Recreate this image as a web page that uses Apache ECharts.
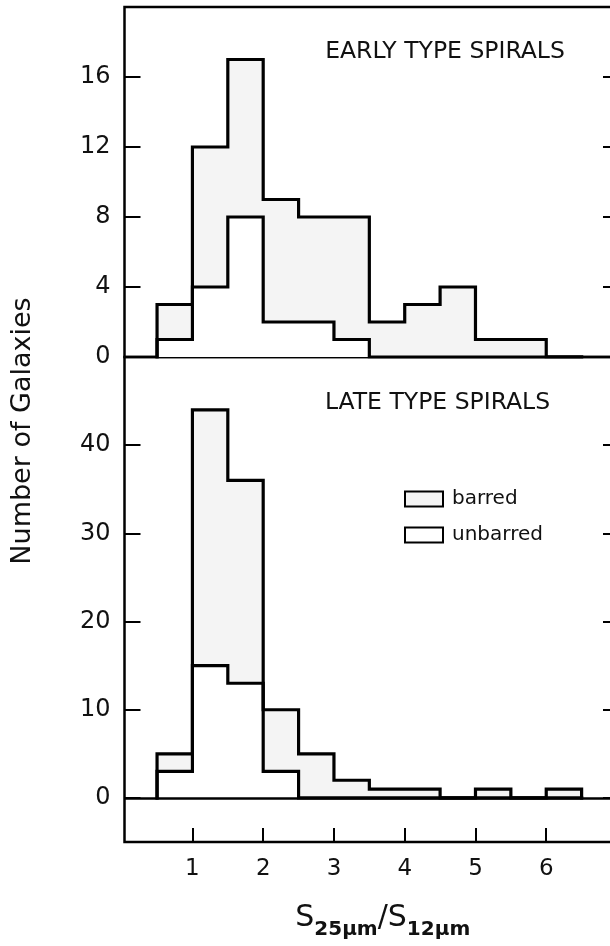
<!DOCTYPE html>
<html>
<head>
<meta charset="utf-8">
<script src="https://cdn.jsdelivr.net/npm/echarts@6/dist/echarts.min.js"></script>
<style>
  html, body { margin: 0; padding: 0; background: #ffffff; }
  #chart { width: 610px; height: 946px; }
</style>
</head>
<body>
<div id="chart"></div>
<script>
// ---- data ----
const binEdges = [0.5, 1, 1.5, 2, 2.5, 3, 3.5, 4, 4.5, 5, 5.5, 6, 6.5];
const earlyUnbarred = [1, 4, 8, 2, 2, 1, 0, 0, 0, 0, 0, 0];
const earlyBarred   = [2, 8, 9, 7, 6, 7, 2, 3, 4, 1, 1, 0];
const lateUnbarred  = [3, 15, 13, 3, 0, 0, 0, 0, 0, 0, 0, 0];
const lateBarred    = [2, 29, 23, 7, 5, 2, 1, 1, 0, 1, 0, 1];
const xTickValues = [1, 2, 3, 4, 5, 6];
const earlyYTicks = [0, 4, 8, 12, 16];
const lateYTicks = [0, 10, 20, 30, 40];
const panelTitles = ['EARLY TYPE SPIRALS', 'LATE TYPE SPIRALS'];
const yTitle = 'Number of Galaxies';

// ---- helpers ----
const FONT = '"DejaVu Sans", sans-serif';
const INK = '#111111';
function stacked(a, b) { return a.map((v, i) => v + b[i]); }
function stepData(counts) {
  const pts = [[binEdges[0], 0]];
  counts.forEach((c, i) => pts.push([binEdges[i], c]));
  pts.push([binEdges[counts.length], 0]);
  return pts;
}
const earlyTotal = stacked(earlyUnbarred, earlyBarred);
const lateTotal = stacked(lateUnbarred, lateBarred);

const BARRED_FILL = '#f4f4f4';
function histSeries(name, counts, gridIdx, fill, extra) {
  return Object.assign({
    type: 'line',
    name: name,
    xAxisIndex: gridIdx,
    yAxisIndex: gridIdx * 2,
    step: 'end',
    data: stepData(counts),
    showSymbol: false,
    symbol: 'none',
    silent: true,
    animation: false,
    lineStyle: { color: '#000', width: 3.2, join: 'miter', cap: 'square' },
    itemStyle: { color: '#000' },
    areaStyle: { color: fill, opacity: 1 }
  }, extra || {});
}

const chart = echarts.init(document.getElementById('chart'), null, { renderer: 'canvas' });

const leftY = (gi, min, max, ticks) => ({
  type: 'value', gridIndex: gi, min: min, max: max, position: 'left',
  splitLine: { show: false },
  axisLine: { show: false, onZero: false },
  axisTick: { show: true, inside: true, length: 16, customValues: ticks, lineStyle: { color: '#000', width: 2 } },
  axisLabel: { show: true, customValues: ticks, fontSize: 24, fontFamily: FONT, color: INK, margin: 14 }
});
const rightY = (gi, min, max, ticks) => ({
  type: 'value', gridIndex: gi, min: min, max: max, position: 'right',
  splitLine: { show: false },
  axisLine: { show: false, onZero: false },
  axisTick: { show: true, inside: true, length: 14, customValues: ticks, lineStyle: { color: '#000', width: 2 } },
  axisLabel: { show: false }
});

const gridCommon = { left: 124.5, width: 492.5, show: true, borderColor: '#000', borderWidth: 2.5,
  backgroundColor: 'transparent', containLabel: false, outerBoundsMode: 'none' };

const option = {
  backgroundColor: '#ffffff',
  animation: false,
  grid: [
    Object.assign({ top: 7, height: 350 }, gridCommon),
    Object.assign({ top: 357, height: 485 }, gridCommon)
  ],
  xAxis: [
    { type: 'value', gridIndex: 0, min: 0.04, max: 7, show: false, axisLine: { onZero: false } },
    {
      type: 'value', gridIndex: 1, min: 0.04, max: 7, position: 'bottom',
      splitLine: { show: false },
      axisLine: { show: false, onZero: false },
      axisTick: { show: true, inside: true, length: 14, customValues: xTickValues, lineStyle: { color: '#000', width: 2 } },
      axisLabel: { show: true, customValues: xTickValues, fontSize: 23, fontFamily: FONT, color: INK, margin: 16 },
      name: '{s|S}{b|25\u03bcm}{s|/S}{b|12\u03bcm}',
      nameLocation: 'middle',
      nameGap: 54,
      nameTextStyle: {
        padding: [0, 0, 0, 24],
        rich: {
          s: { fontSize: 30, fontFamily: FONT, color: INK, lineHeight: 44 },
          b: { fontSize: 20, fontFamily: FONT, fontWeight: 'bold', color: INK, lineHeight: 19, verticalAlign: 'bottom' }
        }
      }
    }
  ],
  yAxis: [
    leftY(0, 0, 20, earlyYTicks),
    rightY(0, 0, 20, earlyYTicks),
    leftY(1, -5, 50, lateYTicks),
    rightY(1, -5, 50, lateYTicks)
  ],
  legend: {
    orient: 'vertical',
    left: 404, top: 489,
    padding: 0,
    itemWidth: 38, itemHeight: 15, itemGap: 16,
    icon: 'rect',
    selectedMode: false,
    textStyle: { fontSize: 20, fontFamily: FONT, color: INK, lineHeight: 15, padding: [0, 0, 0, 4] },
    data: [
      { name: 'barred', icon: 'rect', itemStyle: { color: BARRED_FILL, borderColor: '#000', borderWidth: 2 } },
      { name: 'unbarred', icon: 'rect', itemStyle: { color: '#ffffff', borderColor: '#000', borderWidth: 2 } }
    ]
  },
  graphic: [
    { type: 'text', x: 22.5, y: 431, rotation: Math.PI / 2,
      style: { text: yTitle, fontSize: 27, fontFamily: FONT, fill: INK, align: 'center', verticalAlign: 'middle' } },
    { type: 'text', x: 445, y: 52,
      style: { text: panelTitles[0], fontSize: 23.5, fontFamily: FONT, fill: INK, align: 'center', verticalAlign: 'middle' } },
    { type: 'text', x: 437.5, y: 403,
      style: { text: panelTitles[1], fontSize: 23.5, fontFamily: FONT, fill: INK, align: 'center', verticalAlign: 'middle' } }
  ],
  series: [
    histSeries('barred', earlyTotal, 0, BARRED_FILL),
    histSeries('unbarred', earlyUnbarred, 0, '#ffffff'),
    histSeries('barred', lateTotal, 1, BARRED_FILL),
    histSeries('unbarred', lateUnbarred, 1, '#ffffff', {
      markLine: {
        silent: true, symbol: 'none', animation: false,
        label: { show: false },
        lineStyle: { color: '#000', width: 2.5, type: 'solid' },
        data: [{ yAxis: 0 }]
      }
    })
  ]
};
chart.setOption(option);
</script>
</body>
</html>
